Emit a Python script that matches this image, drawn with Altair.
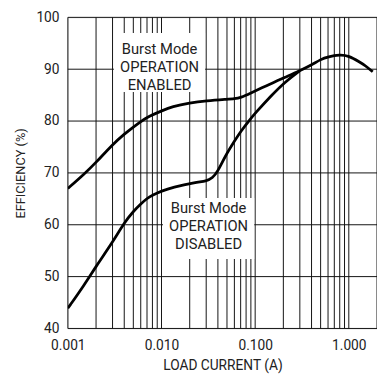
import altair as alt
import pandas as pd

# Data
enabled_x = [0.001, 0.0015, 0.002, 0.003, 0.004, 0.005, 0.006, 0.007, 0.008, 0.01, 0.013, 0.02,
             0.03, 0.05, 0.06, 0.07, 0.09, 0.117, 0.16, 0.2, 0.3, 0.4, 0.5, 0.6, 0.8, 1.0,
             1.3, 1.5, 1.8]
enabled_y = [67.0, 69.8, 72.0, 75.5, 77.5, 78.85, 79.9, 80.7, 81.2, 81.95, 82.8, 83.5,
             83.9, 84.2, 84.3, 84.5, 85.4, 86.4, 87.5, 88.3, 89.7, 90.8, 91.9, 92.4, 92.8, 92.6,
             91.4, 90.7, 89.5]

disabled_x = [0.001, 0.0015, 0.002, 0.003, 0.004, 0.005, 0.006, 0.007, 0.008, 0.01, 0.013,
              0.0235, 0.03, 0.035, 0.04, 0.048, 0.06, 0.07, 0.089, 0.1, 0.15, 0.207, 0.3]
disabled_y = [43.9, 48.4, 52.0, 56.6, 60.4, 62.6, 64.0, 65.1, 65.7, 66.5, 67.2,
              68.2, 68.4, 69.0, 70.3, 73.3, 76.1, 78.0, 80.4, 81.5, 85.0, 87.5, 89.7]

x_grid = [m * 10 ** e for e in (-3, -2, -1) for m in range(1, 10)] + [1.0, 2.0]
y_grid = [40, 50, 60, 70, 80, 90, 100]
x_labels = [0.001, 0.01, 0.1, 1.0]

label_enabled = ["Burst Mode", "OPERATION", "ENABLED"]
label_disabled = ["Burst Mode", "OPERATION", "DISABLED"]

FONT = "Roboto"
TXT = "#222"

xscale = alt.Scale(type="log", domain=[0.001, 2.0], nice=False)
yscale = alt.Scale(domain=[40, 100], nice=False, zero=False)

curves = pd.concat([
    pd.DataFrame({"x": enabled_x, "y": enabled_y, "s": "enabled"}),
    pd.DataFrame({"x": disabled_x, "y": disabled_y, "s": "disabled"}),
])

vgrid = alt.Chart(pd.DataFrame({"x": x_grid})).mark_rule(color="#111", strokeWidth=1).encode(
    x=alt.X("x:Q", scale=xscale,
            axis=alt.Axis(values=x_labels, format=".3f", title="LOAD CURRENT (A)",
                          grid=False, ticks=False, domain=False, labelPadding=10,
                          labelFontSize=14, titleFontSize=14, titlePadding=7,
                          labelFont=FONT, titleFont=FONT, labelColor=TXT,
                          titleColor=TXT, titleFontWeight="normal",
                          labelFlush=False))
)
hgrid = alt.Chart(pd.DataFrame({"y": y_grid})).mark_rule(color="#111", strokeWidth=1).encode(
    y=alt.Y("y:Q", scale=yscale,
            axis=alt.Axis(values=y_grid, title="EFFICIENCY (%)", grid=False, ticks=False,
                          domain=False, labelPadding=9, labelFontSize=14, titleFontSize=13,
                          titlePadding=9, labelFont=FONT, titleFont=FONT,
                          labelColor=TXT, titleColor=TXT, titleFontWeight="normal",
                          labelFlush=False))
)

boxes = pd.DataFrame({
    "x": [0.0031, 0.01037], "x2": [0.0292, 0.0977],
    "y": [97.0, 65.15], "y2": [85.6, 53.4],
})
box_layer = alt.Chart(boxes).mark_rect(color="white").encode(
    x=alt.X("x:Q", scale=xscale), x2="x2:Q",
    y=alt.Y("y:Q", scale=yscale), y2="y2:Q",
)

lines = alt.Chart(curves).mark_line(color="black", strokeWidth=2.8,
                                    interpolate="basis", clip=True).encode(
    x=alt.X("x:Q", scale=xscale),
    y=alt.Y("y:Q", scale=yscale),
    detail="s:N",
)

texts = pd.DataFrame({
    "t": label_enabled + label_disabled,
    "x": [0.00953] * 3 + [0.0318] * 3,
    "y": [92.86, 89.4, 85.95, 62.25, 58.77, 55.3],
})
text_layer = alt.Chart(texts).mark_text(font=FONT, fontSize=15, color=TXT,
                                        baseline="alphabetic", align="center").encode(
    x=alt.X("x:Q", scale=xscale),
    y=alt.Y("y:Q", scale=yscale),
    text="t:N",
)

chart = alt.layer(vgrid, hgrid, box_layer, lines, text_layer).properties(
    width=315, height=317,
    autosize=alt.AutoSizeParams(type="none"),
    padding={"left": 61, "top": 6, "right": 0, "bottom": 50},
).configure_view(stroke="black", strokeWidth=1.2).configure(background="white")

chart.save("out.html", embed_options={"renderer": "svg", "actions": False})
